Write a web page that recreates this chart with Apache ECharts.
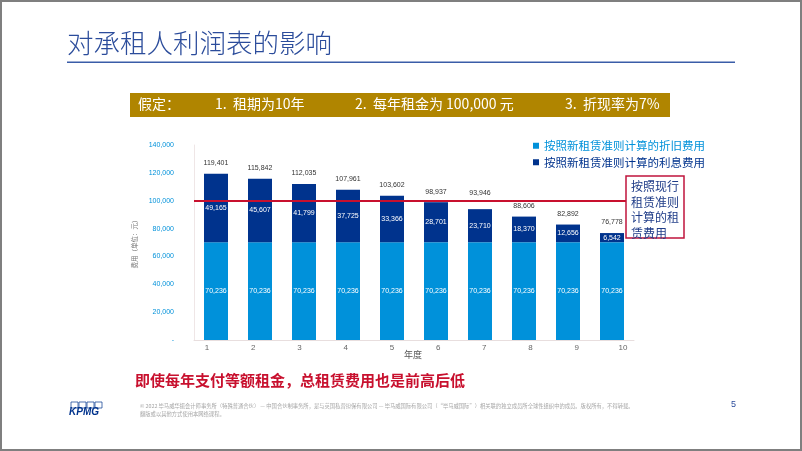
<!DOCTYPE html>
<html>
<head>
<meta charset="utf-8">
<script src="https://cdn.jsdelivr.net/npm/echarts@6/dist/echarts.min.js"></script>
<style>
html,body{margin:0;padding:0;background:#fff;}
#c{width:802px;height:451px;}
</style>
</head>
<body>
<div id="c"></div>
<script>
var years = ['1','2','3','4','5','6','7','8','9','10'];
var depreciation = [70236,70236,70236,70236,70236,70236,70236,70236,70236,70236];
var interest = [49165,45607,41799,37725,33366,28701,23710,18370,12656,6542];
var totals = [119401,115842,112035,107961,103602,98937,93946,88606,82892,76778];
var currentRule = 100000;
var seriesNames = ['按照新租赁准则计算的折旧费用','按照新租赁准则计算的利息费用'];

function fmt(v){ return v.toString().replace(/\B(?=(\d{3})+(?!\d))/g, ','); }

var CJK = '"Noto Sans CJK SC","Liberation Sans",sans-serif';
var LAT = '"Liberation Sans","Noto Sans CJK SC",sans-serif';
var LIGHT = '#0091DA', DARK = '#00338D', RED = '#C8102E', GOLD = '#B08500';

// lift the total label of year 7 so it clears the red reference line
var totalData = totals.map(function(v, i){
  return i === 6 ? {value:v, label:{distance:13}} : v;
});

var chart = echarts.init(document.getElementById('c'), null, {renderer:'canvas'});
chart.setOption({
  animation:false,
  backgroundColor:'#fff',
  grid:[
    {left:194, right:168, top:145, bottom:111},
    {left:207, right:179, top:145, bottom:111}
  ],
  legend:{
    orient:'vertical', left:528, top:135, itemWidth:6, itemHeight:6, itemGap:5,
    icon:'rect', selectedMode:false,
    textStyle:{fontFamily:CJK, fontSize:11.5},
    data:[
      {name:seriesNames[0], textStyle:{color:LIGHT}},
      {name:seriesNames[1], textStyle:{color:DARK}}
    ]
  },
  xAxis:[
    {type:'category', gridIndex:0, data:years, axisLine:{lineStyle:{color:'#E8DEDE'}},
     axisTick:{show:false}, axisLabel:{show:false}},
    {type:'category', gridIndex:1, data:years, boundaryGap:false, axisLine:{show:false},
     axisTick:{show:false}, axisLabel:{color:'#666', fontSize:8, fontFamily:LAT, margin:4}}
  ],
  yAxis:[
    {type:'value', gridIndex:0, min:0, max:140000, interval:20000,
     name:'费用（单位：元）', nameLocation:'middle', nameRotate:90, nameGap:56,
     nameTextStyle:{color:'#777', fontSize:6.5, fontFamily:CJK},
     axisLine:{show:true, lineStyle:{color:'#EFE6E6'}}, axisTick:{show:false}, splitLine:{show:false},
     axisLabel:{color:LIGHT, fontSize:7, fontFamily:LAT, margin:20,
       formatter:function(v){ return v===0 ? '-' : fmt(v); }}},
    {type:'value', gridIndex:1, min:0, max:140000, show:false}
  ],
  series:[
    {name:seriesNames[0], type:'bar', stack:'s', data:depreciation, barWidth:24,
     itemStyle:{color:LIGHT},
     label:{show:true, position:'inside', color:'#fff', fontSize:7, fontFamily:LAT,
       formatter:function(p){return fmt(p.value);}},
     markLine:{silent:true, symbol:'none', label:{show:false}, z:10,
       lineStyle:{color:RED, width:2, type:'solid'}, data:[{yAxis:currentRule}]}
    },
    {name:seriesNames[1], type:'bar', stack:'s', data:interest, barWidth:24,
     itemStyle:{color:DARK},
     label:{show:true, position:'inside', color:'#fff', fontSize:7, fontFamily:LAT,
       formatter:function(p){return fmt(p.value);}}
    },
    {name:'total', type:'bar', data:totalData, barWidth:24, barGap:'-100%', silent:true,
     itemStyle:{color:'rgba(0,0,0,0)'},
     label:{show:true, position:'top', distance:7, color:'#333', fontSize:7, fontFamily:LAT,
       formatter:function(p){return fmt(p.value);}}
    }
  ],
  graphic:[
    {type:'rect', z:0, silent:true, shape:{x:1,y:1,width:800,height:449}, style:{fill:'none', stroke:'#7F7F7F', lineWidth:2}},
    {type:'text', left:67, top:30, style:{text:'对承租人利润表的影响', fill:'#2B4C9B', fontSize:26.5, fontWeight:300, fontFamily:CJK}},
    {type:'rect', shape:{x:67,y:61.5,width:668,height:1.5}, style:{fill:'#3A5DA8'}},
    {type:'rect', shape:{x:130,y:93,width:540,height:24}, style:{fill:GOLD}},
    {type:'text', left:138, top:97, style:{text:'假定：', fill:'#fff', fontSize:14, fontFamily:CJK}},
    {type:'text', left:215, top:97, style:{text:'1.  租期为10年', fill:'#fff', fontSize:14, fontFamily:CJK}},
    {type:'text', left:355, top:97, style:{text:'2.  每年租金为 100,000 元', fill:'#fff', fontSize:14, fontFamily:CJK}},
    {type:'text', left:565, top:97, style:{text:'3.  折现率为7%', fill:'#fff', fontSize:14, fontFamily:CJK}},
    {type:'rect', z:100, shape:{x:626,y:176,width:58,height:62}, style:{fill:'#fff', stroke:'#C0143C', lineWidth:1.5}},
    {type:'text', z:101, left:631, top:179, style:{text:'按照现行\n租赁准则\n计算的租\n赁费用', fill:'#1F3C88', fontSize:12, lineHeight:15.5, fontFamily:CJK}},
    {type:'text', left:404, top:350, style:{text:'年度', fill:'#555', fontSize:9, fontFamily:CJK}},
    {type:'text', left:135, top:373, style:{text:'即使每年支付等额租金，总租赁费用也是前高后低', fill:RED, fontSize:15, fontWeight:'bold', fontFamily:CJK}},
    {type:'rect', shape:{x:71,y:402,width:7,height:6}, style:{fill:'none', stroke:'#00338D', lineWidth:0.7}},
    {type:'rect', shape:{x:79,y:402,width:7,height:6}, style:{fill:'none', stroke:'#00338D', lineWidth:0.7}},
    {type:'rect', shape:{x:87,y:402,width:7,height:6}, style:{fill:'none', stroke:'#00338D', lineWidth:0.7}},
    {type:'rect', shape:{x:95,y:402,width:7,height:6}, style:{fill:'none', stroke:'#00338D', lineWidth:0.7}},
    {type:'text', left:69, top:407, style:{text:'KPMG', fill:'#00338D', fontSize:10, fontWeight:'bold', fontStyle:'italic', fontFamily:LAT}},
    {type:'text', left:140, top:402, style:{text:'© 2022 毕马威华振会计师事务所（特殊普通合伙） — 中国合伙制事务所，是与英国私营担保有限公司 — 毕马威国际有限公司（“毕马威国际”）相关联的独立成员所全球性组织中的成员。版权所有，不得转载。\n翻版或以其他方式使用本网络课程。', fill:'#A6A6A6', fontSize:5.3, lineHeight:8, fontFamily:CJK}},
    {type:'text', left:731, top:400, style:{text:'5', fill:'#2B4C9B', fontSize:9, fontFamily:LAT}}
  ]
});
</script>
</body>
</html>
